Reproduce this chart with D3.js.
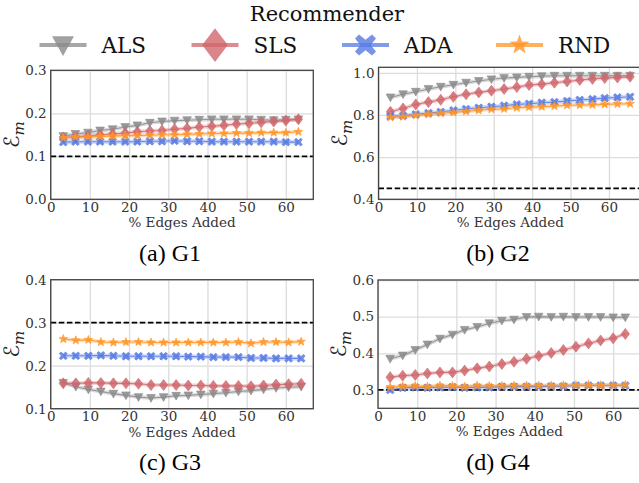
<!DOCTYPE html>
<html><head><meta charset="utf-8">
<script src="https://cdn.jsdelivr.net/npm/d3@7"></script>
<style>
html,body{margin:0;padding:0;background:#fff;}
svg{display:block;}
</style></head>
<body><svg id="chart" width="639" height="483"></svg>
<script>
// ---------------- DATA ----------------
const recommenders = ["ALS", "SLS", "ADA", "RND"];
const xTicks = [0, 10, 20, 30, 40, 50, 60];

const xG1 = [3.2, 6.3, 9.5, 12.6, 15.8, 19.0, 22.1, 25.3, 28.4, 31.6, 34.8, 37.9, 41.1, 44.2, 47.4, 50.6, 53.7, 56.9, 60.0, 63.2];
const g1ALS = [0.147, 0.152, 0.155, 0.160, 0.163, 0.168, 0.172, 0.178, 0.181, 0.183, 0.184, 0.185, 0.186, 0.186, 0.186, 0.186, 0.185, 0.184, 0.185, 0.186];
const g1SLS = [0.144, 0.145, 0.147, 0.150, 0.152, 0.154, 0.157, 0.159, 0.160, 0.163, 0.165, 0.168, 0.170, 0.172, 0.175, 0.177, 0.179, 0.181, 0.183, 0.186];
const g1ADA = [0.133, 0.134, 0.134, 0.134, 0.134, 0.134, 0.134, 0.135, 0.135, 0.136, 0.135, 0.135, 0.134, 0.134, 0.134, 0.134, 0.134, 0.134, 0.133, 0.133];
const g1RND = [0.143, 0.145, 0.145, 0.146, 0.147, 0.148, 0.148, 0.149, 0.150, 0.150, 0.151, 0.152, 0.153, 0.153, 0.154, 0.154, 0.155, 0.155, 0.155, 0.157];
const g1Baseline = 0.1;
const g1YTicks = [0.0, 0.1, 0.2, 0.3];

const xG2 = [3.1, 6.4, 9.7, 13.0, 16.2, 19.5, 22.8, 26.1, 29.4, 32.7, 36.0, 39.2, 42.5, 45.8, 49.1, 52.4, 55.7, 58.9, 62.2, 65.5];
const g2ALS = [0.883, 0.898, 0.910, 0.923, 0.934, 0.943, 0.953, 0.961, 0.969, 0.975, 0.978, 0.981, 0.984, 0.986, 0.986, 0.986, 0.986, 0.986, 0.986, 0.986];
const g2SLS = [0.815, 0.831, 0.850, 0.861, 0.872, 0.886, 0.898, 0.907, 0.915, 0.923, 0.932, 0.942, 0.946, 0.953, 0.959, 0.966, 0.971, 0.975, 0.978, 0.981];
const g2ADA = [0.793, 0.796, 0.803, 0.809, 0.814, 0.822, 0.828, 0.834, 0.839, 0.844, 0.850, 0.853, 0.858, 0.861, 0.866, 0.871, 0.875, 0.880, 0.883, 0.886];
const g2RND = [0.789, 0.792, 0.798, 0.803, 0.808, 0.812, 0.817, 0.822, 0.827, 0.829, 0.834, 0.837, 0.839, 0.842, 0.846, 0.847, 0.848, 0.850, 0.852, 0.853];
const g2Baseline = 0.452;
const g2YTicks = [0.4, 0.6, 0.8, 1.0];

const xG3 = [3.2, 6.4, 9.6, 12.8, 16.0, 19.2, 22.4, 25.6, 28.8, 32.0, 35.1, 38.3, 41.5, 44.7, 47.9, 51.1, 54.3, 57.5, 60.7, 63.9];
const g3ALS = [0.160, 0.151, 0.145, 0.140, 0.135, 0.131, 0.127, 0.125, 0.127, 0.130, 0.131, 0.133, 0.135, 0.137, 0.140, 0.142, 0.145, 0.148, 0.150, 0.151];
const g3SLS = [0.159, 0.159, 0.160, 0.160, 0.159, 0.159, 0.158, 0.155, 0.155, 0.155, 0.154, 0.154, 0.153, 0.153, 0.153, 0.152, 0.154, 0.156, 0.157, 0.158];
const g3ADA = [0.223, 0.223, 0.223, 0.224, 0.223, 0.222, 0.222, 0.222, 0.222, 0.222, 0.221, 0.221, 0.220, 0.220, 0.220, 0.218, 0.218, 0.217, 0.217, 0.217];
const g3RND = [0.262, 0.259, 0.260, 0.255, 0.254, 0.255, 0.255, 0.254, 0.254, 0.254, 0.254, 0.254, 0.254, 0.254, 0.255, 0.252, 0.255, 0.255, 0.254, 0.256];
const g3Baseline = 0.3;
const g3YTicks = [0.1, 0.2, 0.3, 0.4];

const xG4 = [3.1, 6.3, 9.5, 12.6, 15.8, 19.0, 22.1, 25.3, 28.4, 31.6, 34.7, 37.9, 41.0, 44.2, 47.3, 50.5, 53.7, 56.8, 60.0, 63.1];
const g4ALS = [0.385, 0.394, 0.409, 0.424, 0.440, 0.451, 0.464, 0.472, 0.482, 0.489, 0.492, 0.499, 0.500, 0.499, 0.500, 0.499, 0.499, 0.499, 0.498, 0.498];
const g4SLS = [0.335, 0.339, 0.341, 0.345, 0.348, 0.348, 0.353, 0.359, 0.364, 0.371, 0.377, 0.385, 0.393, 0.401, 0.409, 0.418, 0.427, 0.435, 0.441, 0.453];
const g4ADA = [0.300, 0.306, 0.307, 0.306, 0.307, 0.308, 0.306, 0.307, 0.307, 0.309, 0.309, 0.309, 0.309, 0.310, 0.310, 0.312, 0.312, 0.312, 0.312, 0.312];
const g4RND = [0.308, 0.310, 0.311, 0.309, 0.312, 0.311, 0.309, 0.312, 0.311, 0.311, 0.312, 0.312, 0.312, 0.312, 0.313, 0.313, 0.314, 0.313, 0.313, 0.314];
const g4Baseline = 0.3;
const g4YTicks = [0.3, 0.4, 0.5, 0.6];

const panelTitles = ["(a) G1", "(b) G2", "(c) G3", "(d) G4"];
const xLabel = "% Edges Added";
const legendTitle = "Recommender";

// ---------------- STYLE / LAYOUT ----------------
const colors = {ALS: "#8a8a8a", SLS: "#d0676c", ADA: "#5679e3", RND: "#ff9526"};
const serif = "'DejaVu Serif', serif";
const titleFont = "'Liberation Serif', 'Times New Roman', serif";

const panels = [
  {x: xG1, series: {ALS: g1ALS, SLS: g1SLS, ADA: g1ADA, RND: g1RND}, base: g1Baseline, yTicks: g1YTicks,
   yDom: [0, 0.3], xDom: [0, 67], box: {l: 50.7, r: 313.3, t: 70.3, b: 199.3}, title: panelTitles[0], tx: 170, ty: 261},
  {x: xG2, series: {ALS: g2ALS, SLS: g2SLS, ADA: g2ADA, RND: g2RND}, base: g2Baseline, yTicks: g2YTicks,
   yDom: [0.4, 1.026], xDom: [0, 68.6], box: {l: 378.5, r: 642, t: 67.3, b: 199.3}, title: panelTitles[1], tx: 498, ty: 261},
  {x: xG3, series: {ALS: g3ALS, SLS: g3SLS, ADA: g3ADA, RND: g3RND}, base: g3Baseline, yTicks: g3YTicks,
   yDom: [0.1, 0.4], xDom: [0, 67], box: {l: 50.7, r: 313.3, t: 279.7, b: 408.7}, title: panelTitles[2], tx: 170, ty: 470},
  {x: xG4, series: {ALS: g4ALS, SLS: g4SLS, ADA: g4ADA, RND: g4RND}, base: g4Baseline, yTicks: g4YTicks,
   yDom: [0.25, 0.6], xDom: [0, 67], box: {l: 378, r: 640.6, t: 280, b: 408.3}, title: panelTitles[3], tx: 498, ty: 470}
];

const svg = d3.select("#chart");

// marker path generators (centered at 0,0), s = half-size
function markerPath(name, s) {
  const p = d3.path();
  if (name === "ALS") { // triangle down
    p.moveTo(-s, -s * 0.8); p.lineTo(s, -s * 0.8); p.lineTo(0, s * 1.0); p.closePath();
  } else if (name === "SLS") { // diamond
    const w = s * 0.95, h = s * 1.25;
    p.moveTo(0, -h); p.lineTo(w, 0); p.lineTo(0, h); p.lineTo(-w, 0); p.closePath();
  } else if (name === "ADA") { // filled X
    const a = s, b = s * 0.38;
    const pts = [[-a + b, -a], [0, -b * 1.3], [a - b, -a], [a, -a + b], [b * 1.3, 0], [a, a - b], [a - b, a], [0, b * 1.3], [-a + b, a], [-a, a - b], [-b * 1.3, 0], [-a, -a + b]];
    p.moveTo(pts[0][0], pts[0][1]); pts.slice(1).forEach(q => p.lineTo(q[0], q[1])); p.closePath();
  } else { // star
    for (let i = 0; i < 10; i++) {
      const r = i % 2 === 0 ? s * 1.1 : s * 0.45;
      const ang = -Math.PI / 2 + i * Math.PI / 5;
      const px = r * Math.cos(ang), py = r * Math.sin(ang);
      if (i === 0) p.moveTo(px, py); else p.lineTo(px, py);
    }
    p.closePath();
  }
  return p.toString();
}
const plotMarkerSize = {ALS: 4.3, SLS: 4.4, ADA: 3.9, RND: 4.1};

panels.forEach((P, pi) => {
  const B = P.box;
  const x = d3.scaleLinear().domain(P.xDom).range([B.l, B.r]);
  const y = d3.scaleLinear().domain(P.yDom).range([B.b, B.t]);
  const g = svg.append("g");
  const clipId = "clip" + pi;
  svg.append("clipPath").attr("id", clipId).append("rect")
    .attr("x", B.l).attr("y", B.t).attr("width", B.r - B.l).attr("height", B.b - B.t);

  // grid
  const xGrid = d3.axisBottom(x).tickValues(xTicks).tickSize(-(B.b - B.t)).tickFormat("");
  g.append("g").attr("transform", `translate(0,${B.b})`).call(xGrid)
    .call(s => s.select(".domain").remove())
    .selectAll("line").attr("stroke", "#dcdcdc").attr("stroke-width", 1.3);
  const yGrid = d3.axisLeft(y).tickValues(P.yTicks).tickSize(-(B.r - B.l)).tickFormat("");
  g.append("g").attr("transform", `translate(${B.l},0)`).call(yGrid)
    .call(s => s.select(".domain").remove())
    .selectAll("line").attr("stroke", "#dcdcdc").attr("stroke-width", 1.3);

  // tick labels via axes (no tick marks)
  const xAxis = d3.axisBottom(x).tickValues(xTicks).tickSize(0).tickPadding(3).tickFormat(d3.format("d"));
  const xa = g.append("g").attr("transform", `translate(0,${B.b})`).call(xAxis);
  xa.select(".domain").remove();
  xa.selectAll("text").attr("font-family", serif).attr("font-size", 13.5).attr("fill", "#333").attr("dy", "0.72em");
  const yAxis = d3.axisLeft(y).tickValues(P.yTicks).tickSize(0).tickPadding(4).tickFormat(d3.format(".1f"));
  const ya = g.append("g").attr("transform", `translate(${B.l},0)`).call(yAxis);
  ya.select(".domain").remove();
  ya.selectAll("text").attr("font-family", serif).attr("font-size", 13.5).attr("fill", "#333");

  // baseline dashed
  g.append("line").attr("x1", B.l).attr("x2", B.r).attr("y1", y(P.base)).attr("y2", y(P.base))
    .attr("stroke", "#000").attr("stroke-width", 1.8).attr("stroke-dasharray", "5.5,2.6");

  // series
  const dg = g.append("g").attr("clip-path", `url(#${clipId})`);
  recommenders.forEach(name => {
    const vals = P.series[name];
    const pts = vals.map((v, i) => [P.x[i], v]);
    const line = d3.line().x(d => x(d[0])).y(d => y(d[1]));
    dg.append("path").attr("d", line(pts)).attr("fill", "none")
      .attr("stroke", colors[name]).attr("stroke-opacity", 0.3).attr("stroke-width", 4);
    dg.append("path").attr("d", line(pts)).attr("fill", "none")
      .attr("stroke", colors[name]).attr("stroke-opacity", 0.85).attr("stroke-width", 1.1);
    dg.selectAll(null).data(pts).enter().append("path")
      .attr("d", markerPath(name, plotMarkerSize[name]))
      .attr("transform", d => `translate(${x(d[0])},${y(d[1])})`)
      .attr("fill", colors[name]).attr("fill-opacity", 0.85)
      .attr("stroke", colors[name]).attr("stroke-width", 0.6);
  });

  // frame
  g.append("rect").attr("x", B.l).attr("y", B.t).attr("width", B.r - B.l).attr("height", B.b - B.t)
    .attr("fill", "none").attr("stroke", "#444").attr("stroke-width", 1.3);

  // x label
  g.append("text").attr("x", (B.l + B.r) / 2).attr("y", B.b + 28)
    .attr("text-anchor", "middle").attr("font-family", serif).attr("font-size", 13.5).attr("fill", "#333")
    .text(xLabel);

  // y label ℰ_m
  const yl = g.append("text")
    .attr("transform", `translate(${B.l - 32},${(B.t + B.b) / 2}) rotate(-90)`)
    .attr("text-anchor", "middle").attr("font-family", serif).attr("fill", "#222");
  yl.append("tspan").attr("font-size", 21).attr("font-family", "'DejaVu Sans', sans-serif").text("ℰ");
  yl.append("tspan").attr("font-size", 15).attr("font-style", "italic").attr("dy", 5).text("m");

  // panel caption
  svg.append("text").attr("x", P.tx).attr("y", P.ty).attr("text-anchor", "middle")
    .attr("font-family", titleFont).attr("font-size", 24).attr("fill", "#000").text(P.title);
});

// ---------------- LEGEND ----------------
svg.append("text").attr("x", 327).attr("y", 21).attr("text-anchor", "middle")
  .attr("font-family", serif).attr("font-size", 21).attr("fill", "#111").text(legendTitle);
const legX = [39.5, 191.5, 342, 496];
const legendMarkerSize = {ALS: 11, SLS: 13.5, ADA: 10.5, RND: 9.5};
recommenders.forEach((name, i) => {
  const lx = legX[i], ly = 45;
  svg.append("line").attr("x1", lx).attr("x2", lx + 47).attr("y1", ly).attr("y2", ly)
    .attr("stroke", colors[name]).attr("stroke-opacity", 0.75).attr("stroke-width", 4);
  svg.append("path").attr("d", markerPath(name, legendMarkerSize[name]))
    .attr("transform", `translate(${lx + 23.5},${ly})`)
    .attr("fill", colors[name]).attr("fill-opacity", 0.8);
  svg.append("text").attr("x", lx + 62).attr("y", ly + 8)
    .attr("font-family", serif).attr("font-size", 21.5).attr("fill", "#111").text(name);
});
</script>
</body></html>
